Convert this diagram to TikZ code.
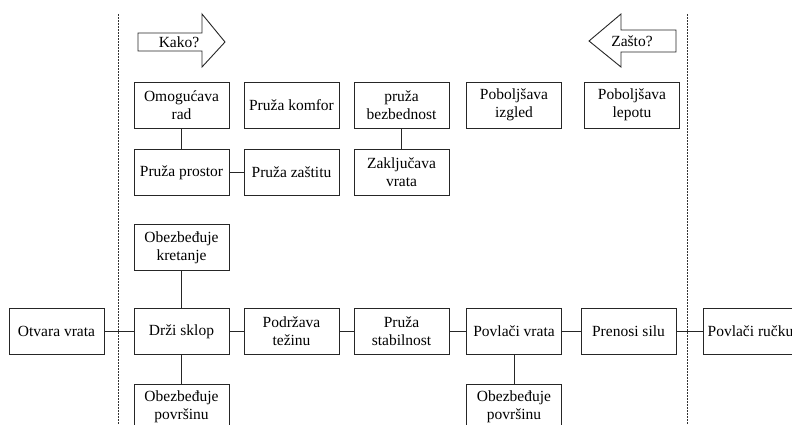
\documentclass[tikz,border=0pt]{standalone}
\usepackage{fontspec}
\setmainfont{Liberation Serif}
\newfontfamily\boxfont{Liberation Serif}

\begin{document}
\begin{tikzpicture}[x=1pt, y=-1pt,
		box/.style={draw=black!85, line width=0.9pt, minimum width=95pt, minimum height=46pt, inner sep=2pt, align=center, font=\boxfont\fontsize{15.5}{18}\selectfont},
		conn/.style={draw=black!85, line width=0.9pt},
		divider/.style={draw=black!80, line width=0.9pt, dash pattern=on 1.5pt off 1.5pt},
		label/.style={font=\boxfont\fontsize{15.5}{18}\selectfont}]

		\useasboundingbox (0,0) rectangle (792,424);
		\clip (0,0) rectangle (792,424);

		% granice sistema
		\draw[divider] (118,14) -- (118,424);
		\draw[divider] (687,14) -- (687,424);

		% strelice smera
		\draw[conn, fill=white] (138,33) -- (202,33) -- (202,14) -- (225,42) -- (202,67) -- (202,51) -- (138,51) -- cycle;
		\node[label] (kako) at (179,42) {Kako?};
		\draw[conn, fill=white] (676,30) -- (621,30) -- (621,14) -- (589,41) -- (621,67) -- (621,52) -- (676,52) -- cycle;
		\node[label] (zasto) at (632,41) {Zašto?};

		% gornji deo
		\node[box] (omogucava) at (181.5,105) {Omogućava\\rad};
		\node[box] (komfor) at (291.5,105) {Pruža komfor};
		\node[box] (bezbednost) at (401.5,105) {pruža\\bezbednost};
		\node[box] (izgled) at (514,105) {Poboljšava\\izgled};
		\node[box] (lepotu) at (632,105) {Poboljšava\\lepotu};

		\node[box] (prostor) at (181.5,172.5) {Pruža prostor};
		\node[box] (zastitu) at (291.5,172.5) {Pruža zaštitu};
		\node[box] (zakljucava) at (401.5,172.5) {Zaključava\\vrata};

		\draw[conn] (omogucava) -- (prostor);
		\draw[conn] (prostor) -- (zastitu);
		\draw[conn] (bezbednost) -- (zakljucava);

		% glavni put
		\node[box] (kretanje) at (181.5,247.5) {Obezbeđuje\\kretanje};
		\node[box] (otvara) at (56.5,331.5) {Otvara vrata};
		\node[box] (drzi) at (181.5,331.5) {Drži sklop};
		\node[box] (tezinu) at (291.5,331.5) {Podržava\\težinu};
		\node[box] (stabilnost) at (401.5,331.5) {Pruža\\stabilnost};
		\node[box] (povlaci) at (514,331.5) {Povlači vrata};
		\node[box] (prenosi) at (628.5,331.5) {Prenosi silu};
		\node[box] (rucku) at (750.5,331.5) {Povlači ručku};
		\node[box] (povrsinaA) at (181.5,407) {Obezbeđuje\\površinu};
		\node[box] (povrsinaB) at (514,407) {Obezbeđuje\\površinu};

		\draw[conn] (otvara) -- (drzi);
		\draw[conn] (drzi) -- (tezinu);
		\draw[conn] (tezinu) -- (stabilnost);
		\draw[conn] (stabilnost) -- (povlaci);
		\draw[conn] (povlaci) -- (prenosi);
		\draw[conn] (prenosi) -- (rucku);
		\draw[conn] (drzi) -- (kretanje);
		\draw[conn] (drzi) -- (povrsinaA);
		\draw[conn] (povlaci) -- (povrsinaB);

\end{tikzpicture}
\end{document}
